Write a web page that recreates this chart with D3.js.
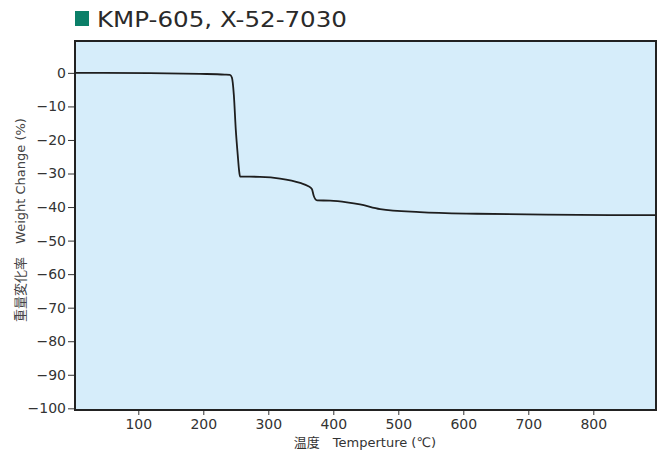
<!DOCTYPE html>
<html><head><meta charset="utf-8">
<script src="https://cdn.jsdelivr.net/npm/d3@7"></script>
<style>body{margin:0;background:#fff}svg{display:block}</style>
</head><body>
<svg id="c" width="662" height="455"></svg>
<script>
const title = "KMP-605, X-52-7030";
const temps =   [0, 118, 195, 233, 241, 244, 247, 250, 253, 255, 256.5, 287, 318, 349, 361, 367, 370, 375, 395, 421, 441, 472, 533, 621, 698, 826, 896];
const weights = [0, -0.1, -0.3, -0.5, -0.6, -1.4, -6.6, -17, -24.5, -29, -30.9, -31.0, -31.5, -32.8, -33.7, -34.6, -36.7, -38.0, -38.1, -38.6, -39.2, -40.6, -41.5, -42.0, -42.2, -42.4, -42.4];
const xTicks = [100, 200, 300, 400, 500, 600, 700, 800];
const yTicks = [0, -10, -20, -30, -40, -50, -60, -70, -80, -90, -100];
const xLabel = "温度　Temperture (℃)";
const yLabel = "重量変化率　Weight Change (%)";

const svg = d3.select("#c");
const L = 75, R = 656, T = 41, B = 410;
const x = d3.scaleLinear().domain([0, 800]).range([73.3, 593.3]);
const y = d3.scaleLinear().domain([-100.5, 9.5]).range([B, T]);
const font = "'DejaVu Sans', 'Noto Sans CJK JP', sans-serif";

svg.append("rect").attr("x", L).attr("y", T).attr("width", R - L).attr("height", B - T)
  .attr("fill", "#d6edfa");

svg.append("clipPath").attr("id", "clip").append("rect").attr("x", L).attr("y", T).attr("width", R - L).attr("height", B - T);
const g = svg.append("g").attr("clip-path", "url(#clip)");

const line = d3.line().x((d, i) => x(temps[i])).y((d, i) => y(weights[i])).curve(d3.curveMonotoneX);
g.append("path").datum(weights).attr("d", line).attr("fill", "none").attr("stroke", "#1e1e1e").attr("stroke-width", 1.8);

const fmt = v => v < 0 ? "\u2212" + Math.abs(v) : String(v);

const xAxis = svg.append("g").attr("transform", `translate(0,${B})`)
  .call(d3.axisBottom(x).tickValues(xTicks).tickSize(5).tickPadding(4).tickFormat(d => d));
const yAxis = svg.append("g").attr("transform", `translate(${L},0)`)
  .call(d3.axisLeft(y).tickValues(yTicks).tickSize(7).tickPadding(2).tickFormat(fmt));
[xAxis, yAxis].forEach(a => {
  a.select(".domain").remove();
  a.selectAll("line").attr("stroke", "#333").attr("stroke-width", 1);
  a.selectAll("text").attr("fill", "#333").style("font-family", font).style("font-size", "14px");
});

svg.append("rect").attr("x", L).attr("y", T).attr("width", R - L).attr("height", B - T)
  .attr("fill", "none").attr("stroke", "#222").attr("stroke-width", 2);

svg.append("rect").attr("x", 75).attr("y", 11).attr("width", 14).attr("height", 15).attr("fill", "#0b7f68");
svg.append("text").attr("x", 97).attr("y", 27).text(title)
  .attr("textLength", 250).attr("lengthAdjust", "spacingAndGlyphs")
  .attr("fill", "#2a2a2a").style("font-family", font).style("font-size", "21px");

svg.append("text").attr("x", 365).attr("y", 447).attr("text-anchor", "middle").text(xLabel)
  .attr("fill", "#333").style("font-family", font).style("font-size", "13px");
svg.append("text").attr("transform", "translate(25,220) rotate(-90)").attr("text-anchor", "middle").text(yLabel)
  .attr("fill", "#444").style("font-family", font).style("font-size", "13px");
</script>
</body></html>
